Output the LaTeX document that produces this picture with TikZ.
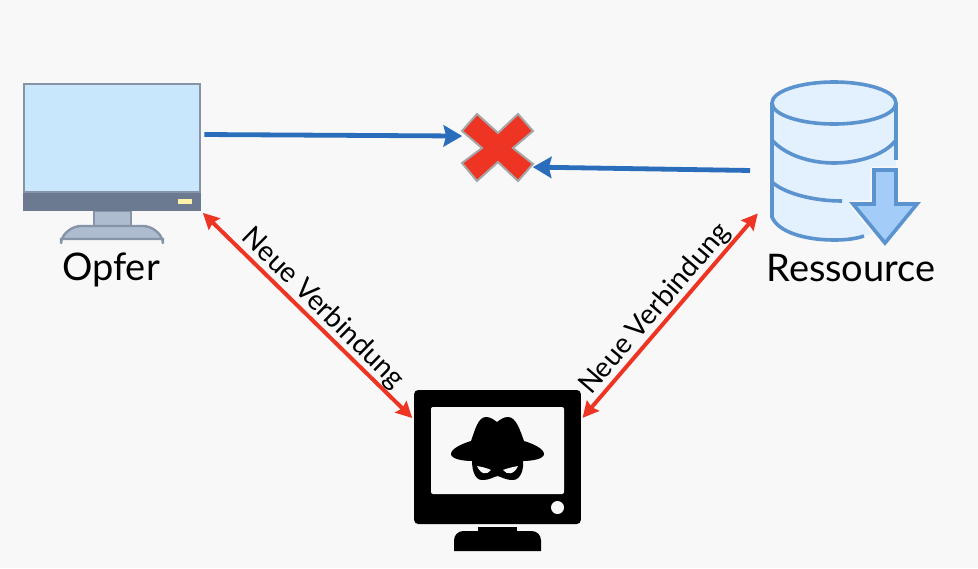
\documentclass[tikz,border=0pt]{standalone}
\usepackage{fontspec}
\setmainfont{Lato}
\usetikzlibrary{arrows.meta,positioning}
\definecolor{pagebg}{HTML}{F8F8F8}
\definecolor{screenblue}{HTML}{C8E6FC}
\definecolor{bezelgrey}{HTML}{6B7A90}
\definecolor{framegrey}{HTML}{8794A8}
\definecolor{standgrey}{HTML}{AEBCCF}
\definecolor{ledyellow}{HTML}{FDF3A8}
\definecolor{dbline}{HTML}{5B93CF}
\definecolor{dbfill}{HTML}{E3F0FD}
\definecolor{dbarrow}{HTML}{A3CDF8}
\definecolor{linkblue}{HTML}{2A6EBB}
\definecolor{linkred}{HTML}{EE3524}
\tikzset{
  box/.style={inner sep=0pt,outer sep=0pt,minimum width=#1},
  caption/.style={font=\fontsize{28.5}{32}\selectfont,inner sep=0pt},
  linklabel/.style={font=\fontsize{21}{24}\selectfont,text=black,sloped,above=0.5pt,inner sep=0pt},
  bluelink/.style={-{Stealth[length=14pt,width=16pt,inset=2pt]},linkblue,line width=3.6pt},
  redlink/.style={{Stealth[length=12pt,width=12pt,inset=1.5pt]}-{Stealth[length=12pt,width=12pt,inset=1.5pt]},linkred,line width=3pt,shorten >=2pt,shorten <=2pt},
  dbstroke/.style={dbline,line width=2.7pt}
}
\begin{document}
\begin{tikzpicture}[x=.75pt,y=-.75pt]
\useasboundingbox (0,0) rectangle (978,568);
\fill[pagebg] (0,0) rectangle (978,568);

% Opfer
\fill[standgrey,draw=framegrey,line width=1.8pt] (94,211) rectangle (131,226);
\fill[standgrey,draw=framegrey,line width=1.8pt] (61,239) [rounded corners=5pt] -- (61,237) -- (74,226) -- (150,226) -- (163,237) [sharp corners] -- (163,239) -- cycle;
\node[box=133.5pt,minimum height=96pt,fill=bezelgrey] (opfer) at (112,147) {};
\fill[screenblue,draw=framegrey,line width=2pt] (24,84) rectangle (200,192);
\fill[ledyellow] (178,199) rectangle (192,204);
\node[caption] (opferText) at (111,269.5) {Opfer};

% Ressource
\node[box=93pt,minimum height=118.5pt] (db) at (834,161) {};
\fill[dbfill] (772,103) -- (772,217) .. controls (778,232) and (805,240) .. (834,240) .. controls (860,240) and (885,232) .. (896,217) -- (896,103) -- cycle;
\fill[dbfill,draw=dbline,line width=2.7pt] (834,103) ellipse (62 and 21);
\draw[dbstroke] (772,103) -- (772,217) .. controls (778,232) and (805,240) .. (834,240) .. controls (845,240) and (855,239) .. (864,236);
\draw[dbstroke] (896,103) -- (896,160);
\draw[dbstroke] (772,140) .. controls (785,155) and (810,163) .. (834,163) .. controls (858,163) and (885,155) .. (896,140);
\draw[dbstroke] (772,182) .. controls (785,194) and (815,201) .. (842,201);
\draw[pagebg,line width=5.5pt,line join=round,fill=dbarrow] (874,170) -- (896,170) -- (896,204) -- (917,204) -- (885,243) -- (853,204) -- (874,204) -- cycle;
\draw[dbstroke,line join=miter,fill=dbarrow] (874,170) -- (896,170) -- (896,204) -- (917,204) -- (885,243) -- (853,204) -- (874,204) -- cycle;
\node[caption] (ressText) at (851,268) {Ressource};

% Kreuz
\node[box=53pt,minimum height=50pt] (cross) at (497.5,147.5) {};
\fill[linkred,draw=black!35,line width=1.5pt] (477,114) -- (498,133) -- (518,114) -- (533,131) -- (513,148) -- (533,164) -- (518,181) -- (498,162) -- (477,181) -- (462,163) -- (482,148) -- (462,131) -- cycle;

% Angreifer
\node[box=125pt,minimum height=100.5pt,fill=black,rounded corners=3pt] (hacker) at (497.5,457) {};
\fill[pagebg,rounded corners=1.5pt] (431,407) rectangle (564,494);
\fill[pagebg] (557.5,507.5) circle (6.5);
\fill[black] (478,527) rectangle (517,532);
\fill[black] (454,551) [rounded corners=7pt] -- (454,531) -- (541,531) [sharp corners] -- (541,551) -- cycle;
\fill[black] (486,417) .. controls (491,417) and (494,420) .. (497,422) .. controls (500,420) and (503,417) .. (508,417) .. controls (516,417) and (520,430) .. (524,441) .. controls (534,444) and (544,449) .. (544,454) .. controls (544,459) and (532,461) .. (523,461) .. controls (524,468) and (521,480) .. (513,480) .. controls (505,480) and (502,477) .. (497.5,476) .. controls (493,477) and (490,480) .. (482,480) .. controls (474,480) and (472,468) .. (472,461) .. controls (463,461) and (451,459) .. (451,454) .. controls (451,449) and (461,444) .. (471,441) .. controls (475,430) and (478,417) .. (486,417) -- cycle;
\fill[pagebg] (477,466) .. controls (482,467) and (487,468) .. (491,470) .. controls (487,475) and (481,475) .. (477,466) -- cycle;
\fill[pagebg] (518,466) .. controls (513,467) and (508,468) .. (503,470) .. controls (507,475) and (514,475) .. (518,466) -- cycle;

% Verbindungen
\draw[bluelink,shorten <=2.5pt] (opfer.8) -- (cross.162);
\draw[bluelink,shorten <=16.5pt] (db.189) -- (cross.-29);
\draw[redlink] (opfer.south east) -- node[linklabel,pos=.52] {Neue Verbindung} (hacker.156);
\draw[redlink,shorten >=16.4pt] (hacker.24) -- node[linklabel,pos=.45] {Neue Verbindung} (db.210);
\end{tikzpicture}
\end{document}
